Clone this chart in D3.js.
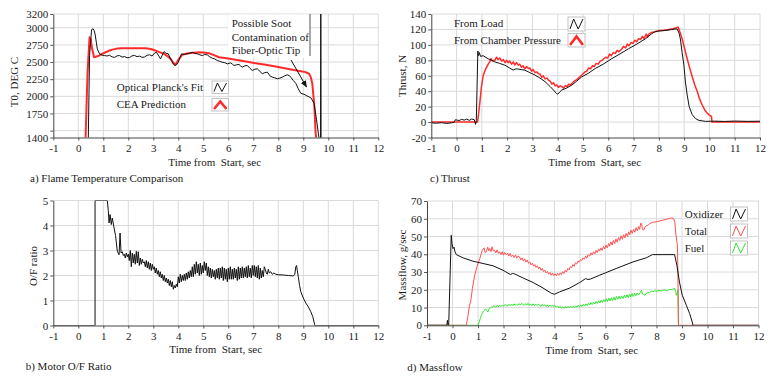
<!DOCTYPE html>
<html>
<head>
<meta charset="utf-8">
<script src="https://cdn.jsdelivr.net/npm/d3@7"></script>
<style>
  body { margin: 0; background: #fff; }
  svg text { font-family: "Liberation Serif", "Times New Roman", serif; font-size: 11px; fill: #1a1a1a; }
</style>
</head>
<body>
<svg id="chart" width="781" height="379"></svg>
<script>
// ---- data (time in s) ----
const timeTicks = [-1, 0, 1, 2, 3, 4, 5, 6, 7, 8, 9, 10, 11, 12];

const tempTicks = [1400, 1500, 1750, 2000, 2250, 2500, 2750, 3000, 3200];
const thrustTicks = [-20, 0, 20, 40, 60, 80, 100, 120, 140];
const ofTicks = [0, 1, 2, 3, 4, 5];
const massTicks = [0, 10, 20, 30, 40, 50, 60, 70];

// a) optical planck's fit (black), CEA prediction (red)
const opticalFit = [[0.40,1380],[0.45,2594],[0.53,2971],[0.59,2985],[0.63,2960],[0.67,2908],[0.72,2790],[0.76,2691],[0.85,2619],[0.95,2600],[1.05,2594],[1.15,2588],[1.25,2598],[1.35,2575],[1.45,2568],[1.55,2590],[1.65,2594],[1.75,2572],[1.85,2580],[1.95,2562],[2.05,2566],[2.15,2590],[2.25,2597],[2.35,2578],[2.45,2586],[2.55,2568],[2.65,2574],[2.75,2598],[2.85,2606],[2.95,2588],[3.05,2630],[3.12,2642],[3.2,2600],[3.29,2546],[3.36,2600],[3.43,2652],[3.5,2630],[3.6,2619],[3.67,2560],[3.73,2522],[3.8,2470],[3.87,2449],[3.93,2460],[4.0,2497],[4.07,2570],[4.13,2619],[4.25,2612],[4.36,2620],[4.46,2630],[4.56,2642],[4.66,2625],[4.76,2619],[4.86,2605],[4.96,2594],[5.06,2610],[5.16,2604],[5.26,2575],[5.36,2555],[5.46,2545],[5.56,2522],[5.66,2510],[5.76,2497],[5.86,2490],[5.96,2473],[6.09,2488],[6.16,2470],[6.23,2449],[6.33,2460],[6.43,2464],[6.5,2440],[6.56,2425],[6.66,2445],[6.76,2449],[6.86,2410],[6.96,2377],[7.06,2395],[7.16,2401],[7.26,2365],[7.36,2329],[7.46,2345],[7.56,2353],[7.66,2300],[7.76,2280],[7.86,2270],[7.96,2256],[8.06,2265],[8.16,2280],[8.26,2300],[8.36,2314],[8.45,2300],[8.52,2270],[8.6,2230],[8.7,2189],[8.8,2110],[8.9,2044],[9.03,2030],[9.15,2005],[9.3,1980],[9.43,1899],[9.53,1657],[9.6,1464],[9.63,1390],[9.69,1390],[9.70,3250],[9.71,1390]];
const ceaPrediction = [[0.29,1380],[0.37,2352],[0.45,2860],[0.49,2840],[0.55,2700],[0.63,2570],[0.73,2580],[0.83,2594],[0.95,2620],[1.09,2642],[1.2,2660],[1.36,2681],[1.5,2692],[1.69,2700],[2.0,2702],[2.3,2702],[2.69,2700],[2.9,2690],[3.09,2667],[3.25,2645],[3.43,2619],[3.55,2590],[3.69,2546],[3.8,2490],[3.87,2459],[3.95,2500],[4.03,2546],[4.16,2604],[4.3,2620],[4.43,2628],[4.6,2636],[4.83,2642],[5.0,2640],[5.23,2628],[5.4,2605],[5.63,2570],[6.0,2550],[6.29,2532],[6.7,2508],[7.09,2483],[7.5,2460],[7.89,2435],[8.2,2412],[8.56,2387],[8.85,2368],[9.09,2353],[9.23,2329],[9.3,2280],[9.36,2184],[9.44,1870],[9.49,1483],[9.52,1380]];

// c) thrust from load (black), from chamber pressure (red)
const thrustLoad = [[-1,-1],[-0.8,-1.5],[-0.6,-0.8],[-0.4,-1.8],[-0.2,-1],[-0.1,-0.5],[-0.05,3],[0.1,2],[0.2,3.5],[0.3,2.5],[0.4,3.8],[0.5,2.2],[0.6,4],[0.7,3],[0.75,-3],[0.78,2],[0.82,60],[0.84,92],[0.87,86],[0.9,90],[0.95,85],[1.05,86],[1.25,82],[1.4,80],[1.51,78],[1.7,76],[1.91,73.7],[2.1,70],[2.24,67.3],[2.35,69],[2.44,68.6],[2.55,68],[2.7,67.3],[2.9,64],[3.1,60.9],[3.3,57],[3.5,52.3],[3.7,46],[3.83,41.5],[3.95,37],[4.0,36],[4.08,39],[4.16,41.5],[4.35,44],[4.56,47.9],[4.75,53],[4.95,58.6],[5.2,63],[5.48,69.3],[5.8,75],[6.14,82.2],[6.5,89],[6.8,95],[7.1,100.5],[7.47,107.9],[7.7,114],[7.86,117.4],[8.05,118],[8.26,118.7],[8.5,119.8],[8.72,120.8],[8.8,115],[8.85,107.9],[8.92,90],[8.99,73.7],[9.05,52],[9.12,35],[9.2,20],[9.32,9.5],[9.45,4.5],[9.58,2.2],[9.85,0.9],[10.2,1.2],[10.6,0.8],[11,1.3],[11.5,0.9],[12,1.1]];
const thrustChamber = [[-1,0],[0.83,0],[0.92,25],[0.98,45],[1.05,60],[1.14,68],[1.25,75],[1.31,78],[1.36,82],[1.42,79],[1.51,80],[1.58,84],[1.64,81],[1.71,83],[1.78,79],[1.85,81],[1.92,77],[1.98,80],[2.04,77],[2.1,79],[2.17,75],[2.24,78],[2.3,74],[2.37,77],[2.44,73.7],[2.5,75],[2.57,71],[2.63,73],[2.7,69],[2.77,72],[2.84,69.4],[2.9,70],[2.97,66],[3.03,68],[3.1,64],[3.17,65],[3.23,63],[3.3,62],[3.37,58],[3.43,60],[3.5,56],[3.57,57],[3.63,54.4],[3.7,53],[3.77,49],[3.83,51],[3.9,47],[3.96,48],[4.03,45],[4.1,47],[4.16,45.8],[4.23,44],[4.3,47],[4.37,46],[4.43,49],[4.5,48],[4.56,50],[4.65,53],[4.75,55],[4.85,58],[4.95,61],[5.08,65],[5.15,66],[5.22,70],[5.3,69],[5.38,73],[5.45,72],[5.52,76],[5.6,75],[5.68,79],[5.75,80],[5.82,82],[5.9,84],[5.98,83],[6.05,88],[6.12,86],[6.2,90],[6.28,89],[6.35,93],[6.42,91],[6.54,95],[6.6,98],[6.68,96],[6.75,101],[6.82,99],[6.9,103],[6.98,102],[7.05,106],[7.12,104],[7.2,108],[7.28,107],[7.35,111],[7.42,108],[7.5,114],[7.55,110],[7.6,114],[7.7,116],[7.86,117],[8.0,118.5],[8.2,119],[8.39,120],[8.55,121],[8.76,123],[8.84,116],[8.92,108],[9.02,95],[9.12,82],[9.22,70],[9.32,58.6],[9.42,48],[9.52,39.6],[9.61,30],[9.71,22.4],[9.81,16],[9.91,11.6],[10.0,9],[10.08,7.3],[10.1,0],[12,0]];

// b) motor O/F ratio
const ofRatio = [[-1,0],[0.67,0],[0.67,5],[1.16,5],[1.2,4.6],[1.23,4.1],[1.27,4.44],[1.32,4.04],[1.36,4.3],[1.43,3.9],[1.49,3.6],[1.56,2.97],[1.63,2.83],[1.67,3.7],[1.71,2.9],[1.76,2.95],[1.8,2.8],[1.84,2.85],[1.88,2.7],[1.92,2.9],[1.96,2.75],[2.0,2.85],[2.04,2.6],[2.08,3.0],[2.12,2.35],[2.16,2.9],[2.2,2.5],[2.24,2.85],[2.28,2.45],[2.32,2.97],[2.36,2.5],[2.4,2.95],[2.44,2.4],[2.48,2.7],[2.52,2.45],[2.56,2.65],[2.6,2.5],[2.64,2.55],[2.68,2.35],[2.72,2.6],[2.76,2.3],[2.8,2.55],[2.84,2.25],[2.88,2.5],[2.92,2.2],[2.96,2.45],[3.0,2.25],[3.04,2.35],[3.08,2.1],[3.12,2.3],[3.16,2.05],[3.2,2.2],[3.24,1.95],[3.28,2.15],[3.32,1.9],[3.36,2.05],[3.4,1.8],[3.44,2.0],[3.48,1.75],[3.52,1.9],[3.56,1.7],[3.6,1.85],[3.64,1.6],[3.68,1.8],[3.72,1.55],[3.76,1.75],[3.8,1.45],[3.84,1.6],[3.88,1.5],[3.92,1.65],[3.96,1.55],[4.0,1.95],[4.04,1.7],[4.08,2.05],[4.12,1.75],[4.16,2.0],[4.2,1.8],[4.24,2.05],[4.28,1.8],[4.32,2.1],[4.36,1.85],[4.4,2.15],[4.44,1.9],[4.48,2.2],[4.52,1.95],[4.56,2.35],[4.6,1.95],[4.64,2.45],[4.68,2.05],[4.72,2.55],[4.76,2.1],[4.8,2.45],[4.84,2.0],[4.88,2.5],[4.92,2.05],[4.96,2.4],[5.0,2.1],[5.04,2.55],[5.08,2.2],[5.12,2.5],[5.16,2.0],[5.2,2.35],[5.24,1.95],[5.28,2.3],[5.32,1.9],[5.36,2.25],[5.4,1.95],[5.44,2.2],[5.48,1.85],[5.52,2.25],[5.56,1.9],[5.6,2.3],[5.64,1.85],[5.68,2.3],[5.72,1.9],[5.76,2.35],[5.8,1.8],[5.84,2.3],[5.88,1.85],[5.92,2.25],[5.96,1.75],[6.0,2.3],[6.04,1.85],[6.08,2.35],[6.12,1.85],[6.16,2.25],[6.2,1.85],[6.24,2.3],[6.28,1.9],[6.32,2.25],[6.36,1.8],[6.4,2.35],[6.44,1.85],[6.48,2.3],[6.52,1.9],[6.56,2.35],[6.6,1.9],[6.64,2.3],[6.68,1.95],[6.72,2.35],[6.76,1.9],[6.8,2.4],[6.84,1.95],[6.88,2.3],[6.92,1.9],[6.96,2.4],[7.0,2.0],[7.04,2.4],[7.08,1.95],[7.12,2.35],[7.16,1.9],[7.2,2.4],[7.24,1.85],[7.28,2.3],[7.32,1.9],[7.36,2.2],[7.4,1.95],[7.44,2.35],[7.48,2.25],[7.52,2.1],[7.56,2.05],[7.6,2.25],[7.64,2.1],[7.7,2.15],[7.76,2.05],[7.82,2.1],[7.9,2.05],[8.0,2.03],[8.2,2.02],[8.4,2.0],[8.6,1.98],[8.66,2.05],[8.7,2.35],[8.73,2.4],[8.76,2.2],[8.8,1.95],[8.85,1.6],[8.9,1.35],[9.0,1.1],[9.1,0.9],[9.2,0.75],[9.3,0.55],[9.38,0.35],[9.45,0.05],[9.46,0],[12,0]];

// d) massflow: oxidizer (black), total (red), fuel (green)
const oxidizerFlow = [[-1,0],[-0.22,0],[-0.2,2.8],[-0.18,0.5],[-0.15,0],[-0.1,25],[-0.05,50.7],[-0.02,46],[0.02,43.2],[0.06,44],[0.1,41.3],[0.15,39.8],[0.41,38],[0.8,36.1],[1.2,34.8],[1.59,33.5],[1.98,31],[2.27,28.6],[2.35,29.2],[2.44,28.9],[2.76,26.7],[3.16,24.1],[3.55,21],[3.88,18],[4.0,17.5],[4.2,18.8],[4.6,21],[4.99,24.1],[5.22,26.3],[5.31,25.8],[5.4,26],[5.77,28.2],[6.42,32],[7.08,35.7],[7.6,38],[7.84,39.8],[8.25,39.8],[8.71,39.8],[8.8,33.8],[8.9,24.4],[9.01,16.9],[9.17,11.3],[9.3,6.6],[9.4,1.9],[9.43,0],[12,0]];
const totalFlow = [[-1,0],[0.54,0],[0.61,5.6],[0.67,11.3],[0.72,14],[0.78,20.7],[0.87,28.2],[0.96,32.9],[1.07,37.6],[1.12,40],[1.17,42.3],[1.24,43.6],[1.28,41],[1.33,41.4],[1.38,44],[1.42,42],[1.46,43.2],[1.51,41.5],[1.55,44.2],[1.6,42],[1.65,42.3],[1.7,40.8],[1.75,42.5],[1.8,40.5],[1.85,41.4],[1.9,39.8],[1.95,41.5],[2.0,39.5],[2.05,41],[2.11,39.8],[2.16,40.6],[2.21,39],[2.26,40.5],[2.31,38.6],[2.37,39.5],[2.42,38.2],[2.47,39.6],[2.52,37.8],[2.57,39],[2.63,38.5],[2.68,36.8],[2.73,38],[2.78,36.2],[2.83,37.4],[2.88,35.6],[2.93,36.8],[2.98,35],[3.03,35.7],[3.08,34],[3.13,35],[3.18,33.3],[3.23,34.2],[3.28,32.6],[3.33,33.5],[3.38,31.8],[3.42,32.9],[3.47,31],[3.52,32],[3.57,30.3],[3.62,31],[3.67,29.5],[3.72,30.3],[3.77,28.8],[3.82,29.8],[3.87,28.2],[3.92,29.4],[3.97,28],[4.02,29],[4.07,27.8],[4.12,29.2],[4.17,28.1],[4.22,29.5],[4.27,28.6],[4.32,30.2],[4.37,29.2],[4.42,31],[4.47,30],[4.52,32],[4.57,31.2],[4.62,33],[4.67,32.4],[4.72,34.2],[4.77,33.2],[4.82,35.2],[4.87,34.5],[4.92,36.2],[4.97,35.5],[5.02,37],[5.07,36.5],[5.12,38],[5.17,37.2],[5.22,39],[5.27,37.8],[5.32,39.8],[5.38,39],[5.43,40.8],[5.48,39.6],[5.53,41.4],[5.58,40.2],[5.63,42.2],[5.68,41],[5.73,43],[5.77,41.8],[5.82,43.6],[5.87,42.2],[5.92,44.4],[5.97,43],[6.02,45.2],[6.07,43.6],[6.12,46],[6.16,44.5],[6.21,47],[6.26,45.2],[6.31,47.8],[6.36,46],[6.41,48.6],[6.46,46.8],[6.51,49.4],[6.56,47.8],[6.61,50.4],[6.66,48.4],[6.71,51],[6.76,49.2],[6.81,51.8],[6.86,50],[6.91,52.6],[6.95,51],[7.0,53.6],[7.05,51.8],[7.1,54],[7.15,52.4],[7.2,55],[7.25,53.2],[7.3,55.6],[7.34,54],[7.38,57.5],[7.41,57.3],[7.45,54],[7.5,53.6],[7.55,55.5],[7.62,56.2],[7.68,56.5],[7.73,57.3],[7.85,58],[7.99,58.3],[8.25,59.2],[8.58,60.5],[8.67,60.2],[8.72,58],[8.75,52.6],[8.79,48],[8.82,45.1],[8.84,30],[8.86,0],[12,0]];
const fuelFlow = [[-1,0],[1.0,0],[1.05,2],[1.09,3.8],[1.13,5.5],[1.17,6.6],[1.21,8],[1.26,8.5],[1.3,9.2],[1.35,8.2],[1.39,7.5],[1.44,9.5],[1.48,9.8],[1.52,10.3],[1.57,10],[1.61,11],[1.65,10.7],[1.7,10.2],[1.75,11.2],[1.8,10.4],[1.85,11.3],[1.9,10.6],[1.95,11.4],[2.0,10.7],[2.05,11.6],[2.11,11.3],[2.16,10.8],[2.21,11.8],[2.26,11],[2.31,12],[2.36,11.1],[2.41,12.1],[2.46,11.2],[2.51,12],[2.56,11.3],[2.61,12.2],[2.66,11.4],[2.71,12.3],[2.76,11.8],[2.81,11.2],[2.86,12.2],[2.91,11.3],[2.96,12.4],[3.01,11.2],[3.06,12],[3.11,11.1],[3.16,12.1],[3.21,11],[3.26,11.9],[3.31,11.1],[3.36,12],[3.42,11.3],[3.47,10.7],[3.52,11.8],[3.57,10.8],[3.62,11.6],[3.67,10.6],[3.72,11.5],[3.77,10.5],[3.82,11.4],[3.87,10.6],[3.92,11.4],[3.97,10.5],[4.02,11.2],[4.07,10.1],[4.12,10.9],[4.17,9.8],[4.22,10.7],[4.27,9.6],[4.33,10.4],[4.38,9.6],[4.43,10.6],[4.48,9.7],[4.53,10.6],[4.58,9.8],[4.63,10.8],[4.68,9.9],[4.73,10.8],[4.78,10],[4.83,11],[4.88,10.2],[4.93,11.3],[4.98,10.4],[5.03,11.5],[5.08,10.6],[5.13,11.8],[5.18,10.8],[5.23,12.1],[5.28,11],[5.33,12.4],[5.38,11.4],[5.43,12.8],[5.48,11.7],[5.53,13.1],[5.58,12],[5.63,13.4],[5.68,12.3],[5.73,13.8],[5.78,12.6],[5.83,14.2],[5.88,12.9],[5.93,14.4],[5.98,13.2],[6.03,14.9],[6.08,13.4],[6.13,15.3],[6.18,13.7],[6.23,15.6],[6.28,14],[6.33,15.8],[6.38,14.2],[6.43,16.2],[6.48,14.6],[6.53,16.4],[6.58,14.8],[6.63,16.6],[6.69,15.2],[6.74,16.9],[6.79,15.4],[6.84,17.2],[6.89,15.6],[6.94,17.6],[6.99,15.9],[7.04,17.8],[7.09,16.2],[7.14,18],[7.19,16.6],[7.24,18.2],[7.3,17],[7.36,18.4],[7.41,19.7],[7.45,17.6],[7.5,17.4],[7.54,16.9],[7.6,18],[7.67,18.4],[7.73,18.4],[7.8,19.3],[7.86,18.8],[7.92,19.4],[7.99,19.2],[8.1,19.6],[8.2,19.4],[8.3,19.9],[8.4,19.6],[8.52,20.1],[8.62,20.3],[8.71,20.7],[8.75,19],[8.78,16.9],[8.82,18.5],[8.84,19.7],[8.85,10],[8.86,0]];

const svg = d3.select("#chart");
svg.append("rect").attr("width", 781).attr("height", 379).attr("fill", "#fff");

const xTitle = "Time from\u00a0 Start, sec";
let clipId = 0;

function drawPanel(p) {
  const g = svg.append("g");
  const x = d3.scaleLinear().domain([-1, 12]).range([p.left, p.right]);
  const y = d3.scaleLinear().domain(p.yDomain).range([p.bottom, p.top]);

  // grid
  g.append("g").selectAll("line")
    .data(timeTicks.slice(1)).join("line")
    .attr("x1", d => x(d)).attr("x2", d => x(d))
    .attr("y1", p.top).attr("y2", p.bottom)
    .attr("stroke", "#dadada").attr("stroke-width", 1);
  g.append("g").selectAll("line")
    .data(p.yTicks.slice(1)).join("line")
    .attr("x1", p.left).attr("x2", p.right)
    .attr("y1", d => y(d)).attr("y2", d => y(d))
    .attr("stroke", "#dadada").attr("stroke-width", 1);

  if (p.before) p.before(g, x, y);

  // series
  const id = "clip" + (clipId++);
  svg.append("clipPath").attr("id", id)
    .append("rect").attr("x", p.left).attr("y", p.top)
    .attr("width", p.right - p.left).attr("height", p.bottom - p.top);
  const line = d3.line().x(d => x(d[0])).y(d => y(d[1]));
  const lines = g.append("g").attr("clip-path", `url(#${id})`);
  p.series.forEach(s => {
    lines.append("path").datum(s.data)
      .attr("d", line)
      .attr("fill", "none")
      .attr("stroke", s.color)
      .attr("stroke-width", s.width)
      .attr("stroke-linejoin", "round");
  });

  // axes
  const yAxis = d3.axisLeft(y).tickValues(p.yTicks).tickSize(3).tickPadding(2)
    .tickSizeOuter(0).tickFormat(p.yFormat || (d => String(d)));
  const ya = g.append("g").attr("transform", `translate(${p.left},0)`).call(yAxis);
  const xAxis = d3.axisBottom(x).tickValues(timeTicks).tickSize(3).tickPadding(4)
    .tickSizeOuter(0).tickFormat(d => String(d));
  const xa = g.append("g").attr("transform", `translate(0,${p.bottom})`).call(xAxis);
  [ya, xa].forEach(a => {
    a.selectAll("text").attr("font-family", null).attr("font-size", null).attr("fill", null);
    a.selectAll("line").attr("stroke", "#555");
    a.select(".domain").attr("stroke", "#444");
  });

  // titles
  g.append("text").attr("x", p.xTitle[0]).attr("y", p.xTitle[1]).text(xTitle);
  g.append("text").attr("x", p.caption[0]).attr("y", p.caption[1]).text(p.captionText);
  g.append("text")
    .attr("transform", `translate(${p.yTitle[0]},${p.yTitle[1]}) rotate(-90)`)
    .attr("text-anchor", "middle").text(p.yTitleText);

  // legend
  p.legend.forEach(l => {
    g.append("text").attr("x", l.x).attr("y", l.y).text(l.label);
    g.append("rect").attr("x", l.box[0]).attr("y", l.box[1])
      .attr("width", l.box[2]).attr("height", l.box[3])
      .attr("fill", "#fff").attr("stroke", "#b5b5b5").attr("stroke-width", 0.8);
    const bx = l.box[0], by = l.box[1], bw = l.box[2], bh = l.box[3];
    const pts = l.icon === "caret"
      ? [[bx + 2, by + bh - 2], [bx + bw / 2, by + 3], [bx + bw - 2, by + bh - 2]]
      : [[bx + 2, by + bh - 2], [bx + bw * 0.33, by + 2], [bx + bw * 0.6, by + bh - 2], [bx + bw - 2, by + 2]];
    g.append("polyline").attr("points", pts.map(q => q.join(",")).join(" "))
      .attr("fill", "none").attr("stroke", l.color)
      .attr("stroke-width", l.icon === "caret" ? 2.6 : 1);
  });

  if (p.after) p.after(g, x, y);
}

// arrow marker
svg.append("defs").append("marker")
  .attr("id", "arrow").attr("viewBox", "0 0 10 10")
  .attr("refX", 9).attr("refY", 5)
  .attr("markerWidth", 7).attr("markerHeight", 7)
  .attr("orient", "auto")
  .append("path").attr("d", "M0,1 L10,5 L0,9 Z").attr("fill", "#111");

// a) Flame temperature
drawPanel({
  left: 53.3, right: 378.3, top: 14, bottom: 137.5,
  yDomain: [1400, 3200], yTicks: tempTicks,
  yFormat: d => (d === 1500 ? "" : String(d)),
  series: [
    { data: ceaPrediction, color: "#ff2a2a", width: 2 },
    { data: opticalFit, color: "#111", width: 1 }
  ],
  xTitle: [168.3, 166], caption: [30, 182], captionText: "a) Flame Temperature Comparison",
  yTitle: [17.5, 82], yTitleText: "T0, DEG C",
  legend: [
    { label: "Optical Planck's Fit", x: 116.7, y: 90.5, box: [212, 81, 16.5, 12.5], color: "#111", icon: "zig" },
    { label: "CEA Prediction", x: 116.7, y: 108, box: [212, 98.5, 16.5, 12.5], color: "#ff2a2a", icon: "caret" }
  ],
  before: (g) => {
    // annotation text box
    g.append("rect").attr("x", 228).attr("y", 14.5).attr("width", 82).attr("height", 43).attr("fill", "#fff");
    g.append("line").attr("x1", 310).attr("x2", 310).attr("y1", 14).attr("y2", 56)
      .attr("stroke", "#555").attr("stroke-width", 1);
  },
  after: (g) => {
    ["Possible Soot", "Contamination of", "Fiber-Optic Tip"].forEach((t, i) => {
      g.append("text").attr("x", 231.7).attr("y", 27 + i * 13.5).text(t);
    });
    g.append("line").attr("x1", 291).attr("y1", 60).attr("x2", 306.5).attr("y2", 87)
      .attr("stroke", "#111").attr("stroke-width", 1).attr("marker-end", "url(#arrow)");
  }
});

// c) Thrust
drawPanel({
  left: 431.3, right: 760, top: 14, bottom: 137.5,
  yDomain: [-20, 140], yTicks: thrustTicks,
  series: [
    { data: thrustChamber, color: "#ff2a2a", width: 1.5 },
    { data: thrustLoad, color: "#111", width: 1 }
  ],
  xTitle: [548.3, 166], caption: [430, 182], captionText: "c) Thrust",
  yTitle: [405.5, 76], yTitleText: "Thrust, N",
  legend: [
    { label: "From Load", x: 454, y: 27, box: [568, 17, 17, 14], color: "#111", icon: "zig" },
    { label: "From Chamber Pressure", x: 454, y: 44, box: [568, 33.5, 17, 13.5], color: "#ff2a2a", icon: "caret" }
  ]
});

// b) Motor O/F ratio
drawPanel({
  left: 53.3, right: 378.3, top: 200.5, bottom: 325.5,
  yDomain: [0, 5], yTicks: ofTicks,
  series: [{ data: ofRatio, color: "#111", width: 1 }],
  xTitle: [169.3, 353], caption: [25.7, 370], captionText: "b) Motor O/F Ratio",
  yTitle: [36.5, 266], yTitleText: "O/F ratio",
  legend: []
});

// d) Massflow
drawPanel({
  left: 427, right: 758.5, top: 201, bottom: 325.3,
  yDomain: [0, 70], yTicks: massTicks,
  series: [
    { data: fuelFlow, color: "#2ee62e", width: 1 },
    { data: totalFlow, color: "#ff5050", width: 1 },
    { data: oxidizerFlow, color: "#111", width: 1 }
  ],
  xTitle: [545.3, 354], caption: [407.3, 371], captionText: "d) Massflow",
  yTitle: [405.5, 265], yTitleText: "Massflow, g/sec",
  legend: [
    { label: "Oxidizer", x: 684.7, y: 218, box: [730.5, 207, 17, 14], color: "#111", icon: "zig" },
    { label: "Total", x: 684.7, y: 235, box: [730.5, 224, 17, 14], color: "#ff5050", icon: "zig" },
    { label: "Fuel", x: 684.7, y: 251.5, box: [730.5, 241, 17, 14], color: "#2ee62e", icon: "zig" }
  ]
});
</script>
</body>
</html>
